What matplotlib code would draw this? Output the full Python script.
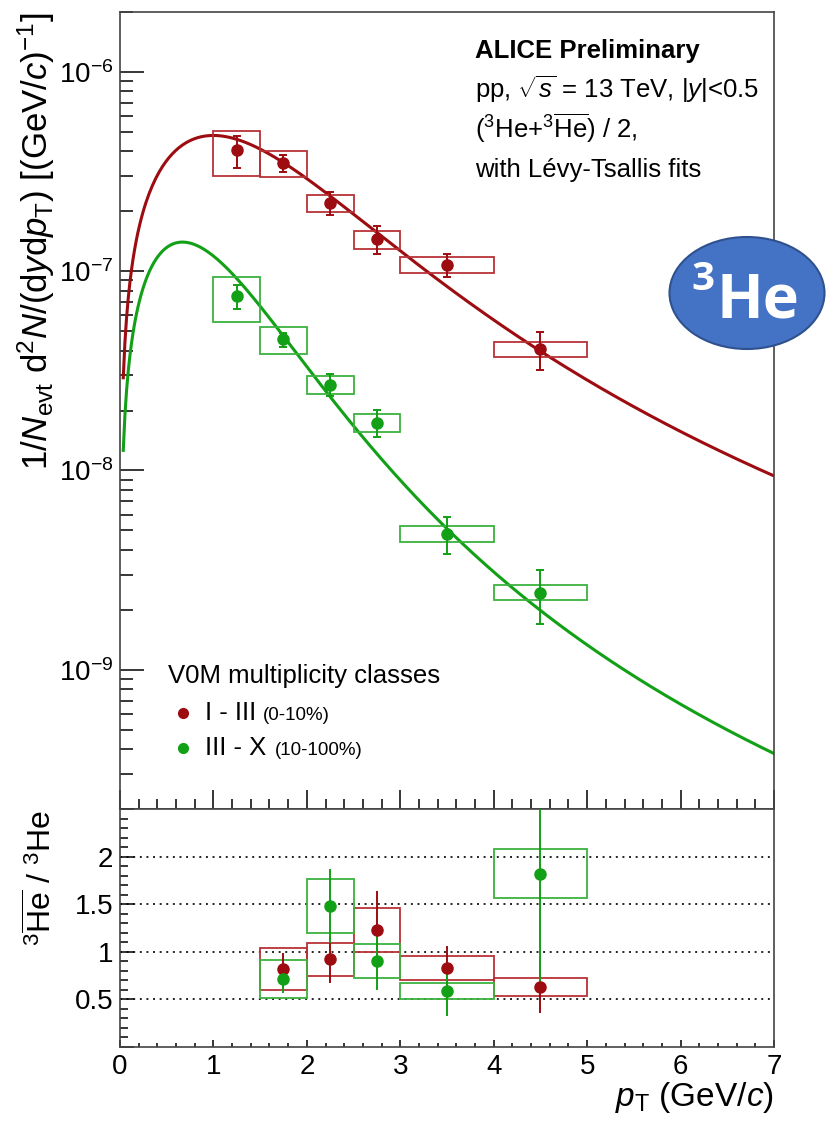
import numpy as np
import matplotlib
matplotlib.use("Agg")
import matplotlib.pyplot as plt
from matplotlib.patches import Rectangle, Ellipse
from matplotlib.ticker import LogLocator, MultipleLocator, NullFormatter, FuncFormatter

plt.rcParams["font.family"] = ["Liberation Sans", "DejaVu Sans"]
plt.rcParams["mathtext.fontset"] = "custom"
plt.rcParams["mathtext.rm"] = "Liberation Sans"
plt.rcParams["mathtext.it"] = "Liberation Sans:italic"
plt.rcParams["mathtext.bf"] = "Liberation Sans:bold"

# pT binning of the spectra (GeV/c)
pt_lo = [1.0, 1.5, 2.0, 2.5, 3.0, 4.0]
pt_hi = [1.5, 2.0, 2.5, 3.0, 4.0, 5.0]
pt_c = [1.25, 1.75, 2.25, 2.75, 3.5, 4.5]

# spectra, class I-III (0-10%)
spec_hi = [4.05e-7, 3.49e-7, 2.20e-7, 1.45e-7, 1.08e-7, 4.06e-8]
spec_hi_stat = [0.735e-7, 0.35e-7, 0.29e-7, 0.23e-7, 0.145e-7, 0.875e-8]
spec_hi_sys = [1.03e-7, 0.52e-7, 0.215e-7, 0.15e-7, 0.095e-7, 0.35e-8]

# spectra, class III-X (10-100%)
spec_lo = [7.48e-8, 4.55e-8, 2.70e-8, 1.74e-8, 4.82e-9, 2.44e-9]
spec_lo_stat = [1.05e-8, 0.37e-8, 0.345e-8, 0.275e-8, 1.02e-9, 0.74e-9]
spec_lo_sys = [1.92e-8, 0.70e-8, 0.28e-8, 0.18e-8, 0.42e-9, 0.21e-9]

# Levy-Tsallis fit parameters: dN/dy, T (GeV), n
mass_he3 = 2.809
fit_dndy = [1.108e-6, 2.04e-7]
fit_T = [0.291, 0.134]
fit_n = [3.93, 3.76]
fit_range = (0.035, 7.0)

# antiparticle / particle ratio
ratio_lo = [1.5, 2.0, 2.5, 3.0, 4.0]
ratio_hi = [2.0, 2.5, 3.0, 4.0, 5.0]
ratio_c = [1.75, 2.25, 2.75, 3.5, 4.5]
ratio_hi_val = [0.82, 0.92, 1.23, 0.83, 0.63]
ratio_hi_stat = [0.17, 0.25, 0.41, 0.23, 0.27]
ratio_hi_sys = [0.225, 0.175, 0.235, 0.13, 0.09]
ratio_lo_val = [0.71, 1.48, 0.90, 0.59, 1.82]
ratio_lo_stat = [0.14, 0.39, 0.30, 0.26, 1.19]
ratio_lo_sys = [0.20, 0.28, 0.18, 0.087, 0.257]
ratio_ref_lines = [0.5, 1.0, 1.5, 2.0]

RED = "#9c0c10"
RED_BOX = "#b83236"
GREEN = "#12a016"
GREEN_BOX = "#3cb23e"

W, H = 828, 1125


def levy_tsallis(pt, dndy, T, n, m):
    mt = np.sqrt(pt**2 + m**2)
    norm = (n - 1) * (n - 2) / (n * T * (n * T + m * (n - 2)))
    return dndy * pt * norm * (1 + (mt - m) / (n * T)) ** (-n)


def fpos(x0, y0, x1, y1):
    return [x0 / W, 1 - y1 / H, (x1 - x0) / W, (y1 - y0) / H]


fig = plt.figure(figsize=(W / 100, H / 100), dpi=100)
ax = fig.add_axes(fpos(120, 12, 774, 809))
axr = fig.add_axes(fpos(120, 809, 774, 1047))

for a in (ax, axr):
    for s in a.spines.values():
        s.set_color("#444444")
        s.set_linewidth(1.2)

# spectra panel
pt_fit = np.linspace(fit_range[0], fit_range[1], 400)
series = [
    (spec_hi, spec_hi_stat, spec_hi_sys, RED, RED_BOX, 0),
    (spec_lo, spec_lo_stat, spec_lo_sys, GREEN, GREEN_BOX, 1),
]
for vals, stat, sys, col, boxcol, k in series:
    ax.plot(pt_fit, levy_tsallis(pt_fit, fit_dndy[k], fit_T[k], fit_n[k], mass_he3),
            color=col, lw=2.2, zorder=2)
    for lo, hi, v, s in zip(pt_lo, pt_hi, vals, sys):
        ax.add_patch(Rectangle((lo, v - s), hi - lo, 2 * s, fill=False,
                               edgecolor=boxcol, lw=1.3, zorder=3))
    ax.errorbar(pt_c, vals, yerr=stat, fmt="o", color=col, ms=8, lw=1.4,
                capsize=3, capthick=1.4, zorder=4)

ax.set_yscale("log")
ax.set_xlim(0, 7)
ax.set_ylim(2.0e-10, 2.0e-6)
ax.yaxis.set_major_locator(LogLocator(base=10, numticks=20))
ax.yaxis.set_minor_locator(LogLocator(base=10, subs=np.arange(2, 10), numticks=20))
ax.yaxis.set_minor_formatter(NullFormatter())
ax.xaxis.set_major_locator(MultipleLocator(1))
ax.xaxis.set_minor_locator(MultipleLocator(0.2))
ax.tick_params(axis="y", which="major", direction="in", length=17, width=1.1,
               labelsize=20, pad=5, right=False)
ax.tick_params(axis="y", which="minor", direction="in", length=9, width=1.1, right=False)
ax.tick_params(axis="x", which="major", direction="in", length=14, width=1.1,
               labelbottom=False, top=False)
ax.tick_params(axis="x", which="minor", direction="in", length=7, width=1.1, top=False)

# ratio panel
for v in ratio_ref_lines:
    axr.axhline(v, color="#222222", lw=1.4, ls=(0, (1.0, 2.4)), zorder=1)
ratio_series = [
    (ratio_hi_val, ratio_hi_stat, ratio_hi_sys, RED, RED_BOX),
    (ratio_lo_val, ratio_lo_stat, ratio_lo_sys, GREEN, GREEN_BOX),
]
for vals, stat, sys, col, boxcol in ratio_series:
    for lo, hi, v, s in zip(ratio_lo, ratio_hi, vals, sys):
        axr.add_patch(Rectangle((lo, v - s), hi - lo, 2 * s, fill=False,
                                edgecolor=boxcol, lw=1.3, zorder=3))
    axr.errorbar(ratio_c, vals, yerr=stat, fmt="o", color=col, ms=8, lw=1.4,
                 capsize=0, zorder=4)

axr.set_xlim(0, 7)
axr.set_ylim(0, 2.5)
axr.xaxis.set_major_locator(MultipleLocator(1))
axr.xaxis.set_minor_locator(MultipleLocator(0.2))
axr.yaxis.set_major_locator(MultipleLocator(0.5))
axr.yaxis.set_minor_locator(MultipleLocator(0.1))
axr.yaxis.set_major_formatter(FuncFormatter(lambda v, p: "" if v == 0 or v > 2.01 else f"{v:g}"))
axr.tick_params(axis="x", which="major", direction="in", length=5, width=1.1,
                labelsize=20, pad=5, top=False)
axr.tick_params(axis="x", which="minor", direction="in", length=3, width=1.1, top=False)
axr.tick_params(axis="y", which="major", direction="in", length=10, width=1.1,
                labelsize=20, pad=5, right=False)
axr.tick_params(axis="y", which="minor", direction="in", length=6, width=1.1, right=False)

# axis titles
fig.text(36 / W, 1 - 12 / H,
         r"$1/N_{\mathrm{evt}}\ \mathrm{d}^{2}N/(\mathrm{d}y\mathrm{d}p_{\mathrm{T}})\ [(\mathrm{GeV}/c)^{-1}]$",
         rotation=90, ha="center", va="top", fontsize=25)
fig.text(42 / W, 1 - 810 / H, r"$^{3}\overline{\mathrm{He}}\ /\ ^{3}\mathrm{He}$",
         rotation=90, ha="center", va="top", fontsize=23)
fig.text(774 / W, 1 - 1106 / H, r"$p_{\mathrm{T}}$ (GeV/$c$)",
         ha="right", va="baseline", fontsize=24)

# overlay in figure pixels for labels and legend
ov = fig.add_axes([0, 0, 1, 1])
ov.set_xlim(0, W)
ov.set_ylim(H, 0)
ov.set_facecolor("none")
ov.axis("off")

ov.text(475, 58, "ALICE Preliminary", fontsize=18.5, fontweight="bold", va="baseline")
ov.text(475, 98, r"pp, $\sqrt{s}$ = 13 TeV, |$y$|<0.5", fontsize=18.5, va="baseline")
ov.text(475, 138, r"($^{3}$He+$^{3}\overline{\mathrm{He}}$) / 2,", fontsize=18.5, va="baseline")
ov.text(475, 177, "with Lévy-Tsallis fits", fontsize=18.5, va="baseline")

ov.text(168, 683, "V0M multiplicity classes", fontsize=18.5, va="baseline")
legend_rows = [("I - III", "(0-10%)", RED, 713, 263), ("III - X", "(10-100%)", GREEN, 748, 275)]
for name, rng, col, yy, xr in legend_rows:
    ov.plot([183], [yy], "o", color=col, ms=7)
    ov.text(205, yy + 7, name, fontsize=18.5, va="baseline")
    ov.text(xr, yy + 7, rng, fontsize=13.5, va="baseline")

# species badge
ov.add_patch(Ellipse((747, 293), 155, 112, facecolor="#4472C4",
                     edgecolor="#2F528F", lw=1.5, zorder=10))
ov.text(691, 290, "3", color="white", fontsize=29, fontweight="bold",
        family="Open Sans", va="baseline", zorder=11)
ov.text(717, 317, "He", color="white", fontsize=44, fontweight="bold",
        family="Open Sans", va="baseline", zorder=11)

fig.savefig("out.png", dpi=100)
